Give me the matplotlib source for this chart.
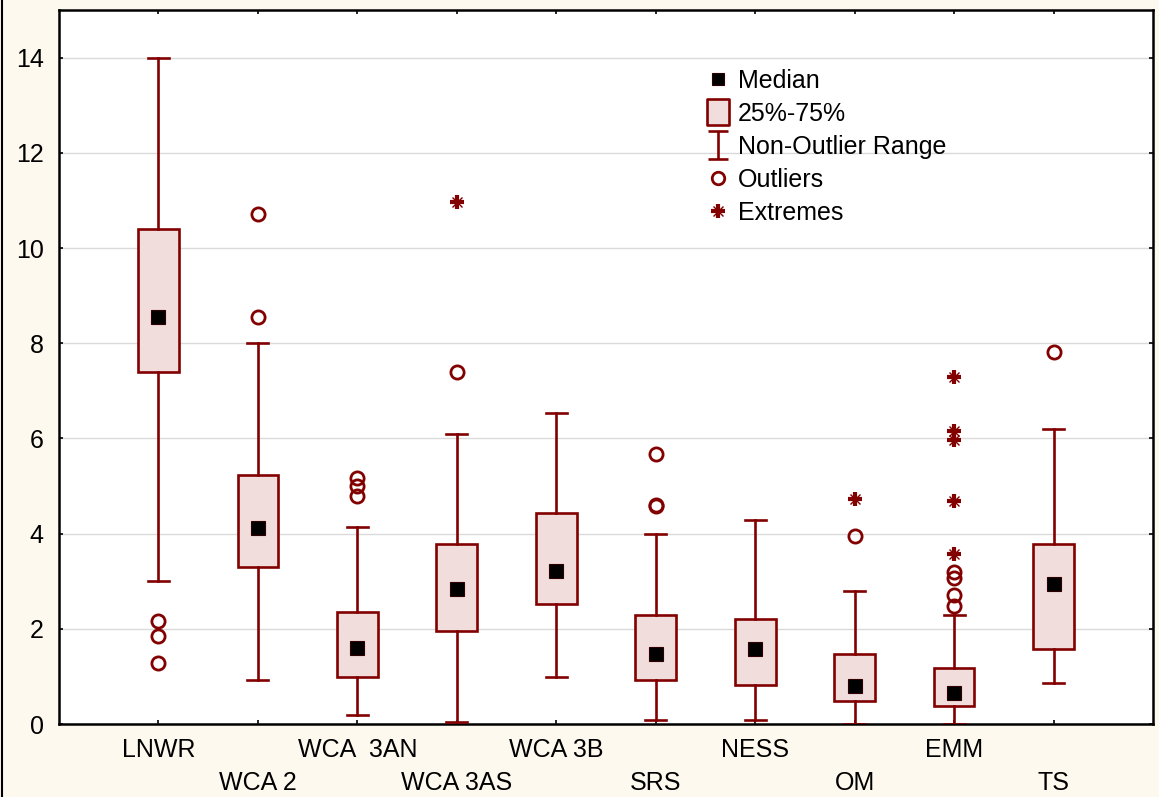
import matplotlib
matplotlib.use('Agg')
import matplotlib.pyplot as plt
from matplotlib.path import Path
from matplotlib.lines import Line2D

plt.rcParams['font.family'] = ['Liberation Sans', 'DejaVu Sans']

categories = ['LNWR', 'WCA 2', 'WCA  3AN', 'WCA 3AS', 'WCA 3B', 'SRS', 'NESS', 'OM', 'EMM', 'TS']
medians = [8.55, 4.12, 1.59, 2.84, 3.22, 1.48, 1.58, 0.80, 0.65, 2.94]
q1 = [7.39, 3.30, 0.98, 1.955, 2.52, 0.925, 0.82, 0.49, 0.38, 1.58]
q3 = [10.40, 5.23, 2.35, 3.78, 4.44, 2.29, 2.21, 1.47, 1.18, 3.78]
whisk_lo = [3.0, 0.92, 0.19, 0.04, 0.99, 0.08, 0.08, 0.0, 0.0, 0.86]
whisk_hi = [14.0, 8.0, 4.13, 6.10, 6.54, 3.99, 4.29, 2.79, 2.29, 6.20]
outliers = [[2.17, 1.85, 1.28], [10.71, 8.55], [5.16, 5.01, 4.78], [7.39], [],
            [5.68, 4.60, 4.57], [], [3.95], [3.20, 3.07, 2.70, 2.47], [7.82]]
extremes = [[], [], [], [10.97], [], [], [], [4.72], [7.30, 6.16, 5.97, 4.68, 3.58], []]
yticks = [0, 2, 4, 6, 8, 10, 12, 14]

DARK = '#820000'
FILL = '#F2DDDD'
BG = '#FDF9EE'
FS = 18

fig = plt.figure(figsize=(11.59, 7.97), dpi=100, facecolor=BG)
ax = fig.add_axes([59/1159, 73/797, (1153-59)/1159, (724-10)/797])
ax.set_facecolor('white')

positions = list(range(1, len(categories) + 1))
stats = []
for i, c in enumerate(categories):
    stats.append(dict(med=medians[i], q1=q1[i], q3=q3[i], whislo=whisk_lo[i],
                      whishi=whisk_hi[i], fliers=outliers[i], label=c))

lw = 1.9
ax.bxp(stats, positions=positions, widths=0.41, capwidths=0.21, patch_artist=True,
       boxprops=dict(facecolor=FILL, edgecolor=DARK, linewidth=lw),
       whiskerprops=dict(color=DARK, linewidth=lw),
       capprops=dict(color=DARK, linewidth=lw),
       medianprops=dict(linewidth=0),
       flierprops=dict(marker='o', markerfacecolor='none', markeredgecolor=DARK,
                       markersize=9.5, markeredgewidth=2.0),
       zorder=3)

ax.plot(positions, medians, linestyle='none', marker='s', markersize=9.5,
        markerfacecolor='black', markeredgecolor='#300000', markeredgewidth=0.8, zorder=5)

for i, ex in enumerate(extremes):
    if ex:
        xs = [positions[i]] * len(ex)
        ax.plot(xs, ex, linestyle='none', marker='+', markersize=9.5, markeredgewidth=3.0,
                color=DARK, zorder=5)
        ax.plot(xs, ex, linestyle='none', marker='x', markersize=7.5, markeredgewidth=1.0,
                color=DARK, zorder=5)

ax.set_xlim(0, 11)
ax.set_ylim(0, 15)
ax.set_yticks(yticks)
ax.set_xticks(positions)
ax.set_xticklabels([])
ax.tick_params(axis='both', direction='in', length=3, width=1.2, colors='black',
               top=True, right=True, labelsize=FS)
ax.tick_params(axis='y', pad=11)
ax.yaxis.grid(True, color='#DADADA', linewidth=1.0, zorder=0)
ax.set_axisbelow(True)
for s in ax.spines.values():
    s.set_linewidth(1.8)
    s.set_color('black')

xtr = ax.get_xaxis_transform()
for i, c in enumerate(categories):
    y = -0.0364 if i % 2 == 0 else -0.0826
    ax.text(positions[i], y, c, transform=xtr, ha='center', va='center', fontsize=FS)

# legend
box_path = Path([(-0.42, -0.5), (0.42, -0.5), (0.42, 0.5), (-0.42, 0.5), (-0.42, -0.5)],
                [Path.MOVETO, Path.LINETO, Path.LINETO, Path.LINETO, Path.CLOSEPOLY])
i_path = Path([(-0.37, 0.5), (0.37, 0.5), (0, 0.5), (0, -0.5), (-0.37, -0.5), (0.37, -0.5)],
              [Path.MOVETO, Path.LINETO, Path.MOVETO, Path.LINETO, Path.MOVETO, Path.LINETO])
h_med = Line2D([], [], linestyle='none', marker='s', markersize=9, markerfacecolor='black',
               markeredgecolor='#300000', markeredgewidth=0.8)
h_box = Line2D([], [], linestyle='none', marker=box_path, markersize=19,
               markerfacecolor=FILL, markeredgecolor=DARK, markeredgewidth=1.9)
h_rng = Line2D([], [], linestyle='none', marker=i_path, markersize=19.5,
               markerfacecolor='none', markeredgecolor=DARK, markeredgewidth=1.9)
h_out = Line2D([], [], linestyle='none', marker='o', markersize=9, markerfacecolor='none',
               markeredgecolor=DARK, markeredgewidth=2.0)
h_ex1 = Line2D([], [], linestyle='none', marker='+', markersize=9.5, markeredgewidth=3.0, color=DARK)
h_ex2 = Line2D([], [], linestyle='none', marker='x', markersize=7.5, markeredgewidth=1.0, color=DARK)
ax.legend([h_med, h_box, h_rng, h_out, (h_ex1, h_ex2)],
          ['Median', '25%-75%', 'Non-Outlier Range', 'Outliers', 'Extremes'],
          loc='upper left', bbox_to_anchor=((706-59)/1094, (724-69)/714),
          frameon=False, fontsize=FS, borderpad=0, borderaxespad=0,
          handlelength=0.95, handletextpad=0.33, labelspacing=0.36)

fig.add_artist(Line2D([0.0015, 0.0015], [0, 1], transform=fig.transFigure, color='black',
                      linewidth=1.5))

fig.savefig('out.png', dpi=100, facecolor=BG)
